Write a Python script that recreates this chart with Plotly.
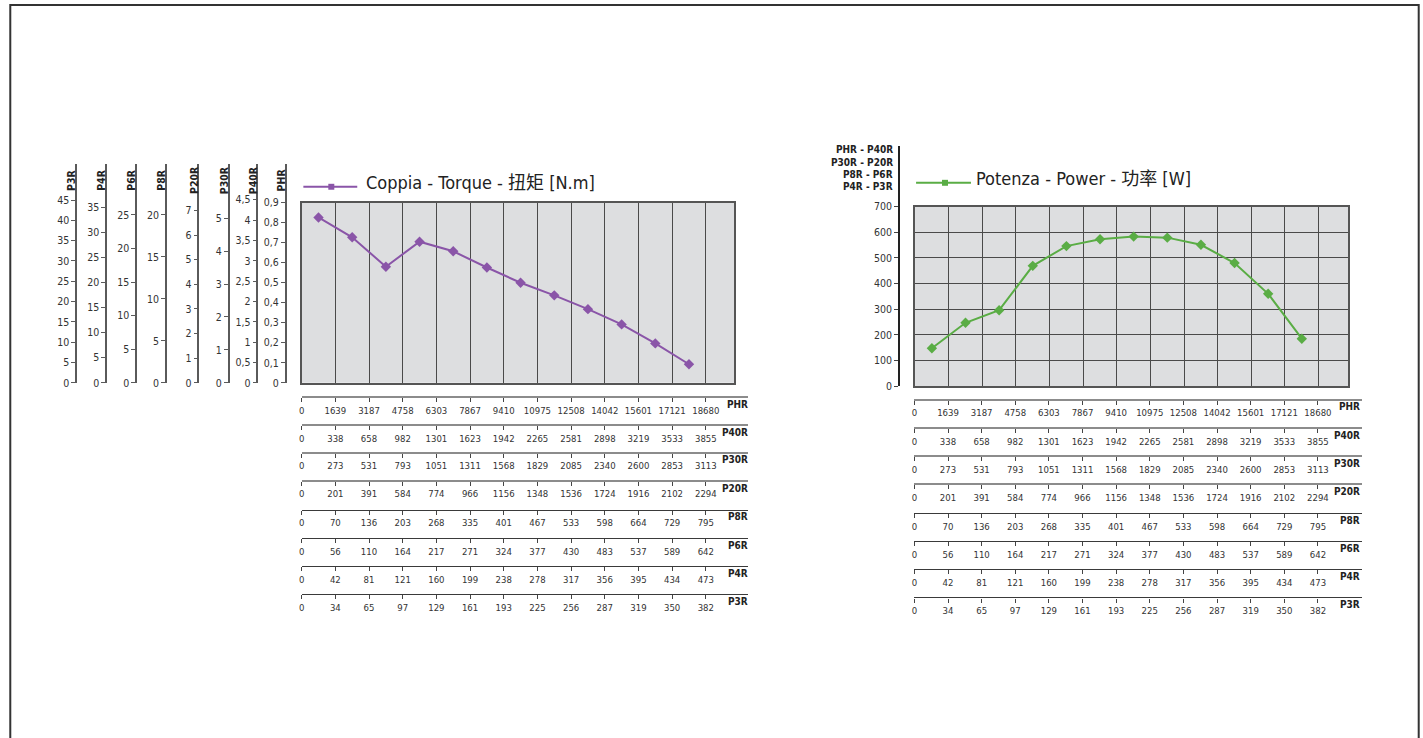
import plotly.graph_objects as go

W, H = 1423, 738

# ---------------- data ----------------
row_names = ["PHR", "P40R", "P30R", "P20R", "P8R", "P6R", "P4R", "P3R"]
speed_PHR = [0, 1639, 3187, 4758, 6303, 7867, 9410, 10975, 12508, 14042, 15601, 17121, 18680]
speed_P40R = [0, 338, 658, 982, 1301, 1623, 1942, 2265, 2581, 2898, 3219, 3533, 3855]
speed_P30R = [0, 273, 531, 793, 1051, 1311, 1568, 1829, 2085, 2340, 2600, 2853, 3113]
speed_P20R = [0, 201, 391, 584, 774, 966, 1156, 1348, 1536, 1724, 1916, 2102, 2294]
speed_P8R = [0, 70, 136, 203, 268, 335, 401, 467, 533, 598, 664, 729, 795]
speed_P6R = [0, 56, 110, 164, 217, 271, 324, 377, 430, 483, 537, 589, 642]
speed_P4R = [0, 42, 81, 121, 160, 199, 238, 278, 317, 356, 395, 434, 473]
speed_P3R = [0, 34, 65, 97, 129, 161, 193, 225, 256, 287, 319, 350, 382]
speed_rows = [speed_PHR, speed_P40R, speed_P30R, speed_P20R,
              speed_P8R, speed_P6R, speed_P4R, speed_P3R]

torque_PHR = [0.826, 0.727, 0.580, 0.705, 0.657, 0.576, 0.500, 0.437, 0.368, 0.292, 0.197, 0.093]
power_W = [148, 247, 296, 469, 546, 573, 583, 579, 551, 480, 360, 185]

scale_names = ["P3R", "P4R", "P6R", "P8R", "P20R", "P30R", "P40R", "PHR"]
scale_ticks = [
    [0, 5, 10, 15, 20, 25, 30, 35, 40, 45],
    [0, 5, 10, 15, 20, 25, 30, 35],
    [0, 5, 10, 15, 20, 25],
    [0, 5, 10, 15, 20],
    [0, 1, 2, 3, 4, 5, 6, 7],
    [0, 1, 2, 3, 4, 5],
    [0, 0.5, 1, 1.5, 2, 2.5, 3, 3.5, 4, 4.5],
    [0, 0.1, 0.2, 0.3, 0.4, 0.5, 0.6, 0.7, 0.8, 0.9],
]
# torque value of each scale at the top edge of the torque plot
scale_top = [44.36, 35.93, 26.83, 21.46, 7.32, 5.47, 4.43, 0.9]

power_ticks = [0, 100, 200, 300, 400, 500, 600, 700]
power_title = ["PHR - P40R", "P30R - P20R", "P8R - P6R", "P4R - P3R"]

torque_label = "Coppia - Torque - 扭矩 [N.m]"
power_label = "Potenza - Power - 功率 [W]"

# ---------------- style / layout helpers ----------------
FONT = "DejaVu Sans Condensed, Liberation Sans Narrow, Noto Sans CJK SC, sans-serif"
PURPLE = "#8a55a8"
GREEN = "#5aad45"
PLOT_BG = "#dddee0"
GRID = "#4a4a4a"


def px(x):
    return x / W


def py(y):
    return 1 - y / H


def fmt(v):
    s = ("%g" % v)
    return s.replace(".", ",")


n_steps = len(speed_PHR) - 1
point_pos = [i + 0.5 for i in range(len(torque_PHR))]

fig = go.Figure()
layout = dict(
    width=W, height=H, autosize=False,
    margin=dict(l=0, r=0, t=0, b=0),
    paper_bgcolor="white", plot_bgcolor="rgba(0,0,0,0)",
    showlegend=False, dragmode=False,
    font=dict(family=FONT, size=10, color="#333"),
    shapes=[], annotations=[],
)

# ---------------- left torque plot ----------------
L_x0, L_x1, L_y0, L_y1 = 299.3, 733.0, 386.0, 204.3
L_step = 33.75
layout["xaxis"] = dict(domain=[px(L_x0), px(L_x1)], range=[0, (L_x1 - L_x0) / L_step],
                       anchor="y", showticklabels=False, ticks="", showgrid=True,
                       gridcolor=GRID, gridwidth=1, tickvals=list(range(1, n_steps + 1)),
                       zeroline=False, showline=True, mirror=True, linecolor="#555",
                       linewidth=1.5, fixedrange=True)
layout["yaxis"] = dict(domain=[py(L_y0), py(L_y1)], range=[0, 0.9], anchor="x",
                       showticklabels=False, ticks="", showgrid=False, zeroline=False,
                       showline=True, mirror=True, linecolor="#555", linewidth=1.5,
                       fixedrange=True)
layout["shapes"].append(dict(type="rect", xref="x domain", yref="y domain", x0=0, x1=1,
                             y0=0, y1=1, fillcolor=PLOT_BG, line=dict(width=0), layer="below"))
fig.add_trace(go.Scatter(x=point_pos, y=torque_PHR, xaxis="x", yaxis="y", mode="lines+markers",
                         line=dict(color=PURPLE, width=2),
                         marker=dict(symbol="diamond", size=8, color=PURPLE),
                         name=torque_label, hoverinfo="y"))

# ---------------- right power plot ----------------
R_x0, R_x1, R_y0, R_y1 = 914.0, 1348.0, 389.3, 208.3
R_step = 33.7
layout["xaxis2"] = dict(domain=[px(R_x0), px(R_x1)], range=[0, (R_x1 - R_x0) / R_step],
                        anchor="y2", showticklabels=False, ticks="", showgrid=True,
                        gridcolor=GRID, gridwidth=1, tickvals=list(range(1, n_steps + 1)),
                        zeroline=False, showline=True, mirror=True, linecolor="#555",
                        linewidth=1.5, fixedrange=True)
layout["yaxis2"] = dict(domain=[py(R_y0), py(R_y1)], range=[0, 700], anchor="x2",
                        showticklabels=False, ticks="", showgrid=True, gridcolor=GRID,
                        gridwidth=1, tickvals=power_ticks[1:-1], zeroline=False,
                        showline=True, mirror=True, linecolor="#555", linewidth=1.5,
                        fixedrange=True)
layout["shapes"].append(dict(type="rect", xref="x2 domain", yref="y2 domain", x0=0, x1=1,
                             y0=0, y1=1, fillcolor=PLOT_BG, line=dict(width=0), layer="below"))
fig.add_trace(go.Scatter(x=point_pos, y=power_W, xaxis="x2", yaxis="y2", mode="lines+markers",
                         line=dict(color=GREEN, width=2),
                         marker=dict(symbol="diamond", size=8, color=GREEN),
                         name=power_label, hoverinfo="y"))

# ---------------- helper dummy axes ----------------
layout["xaxis30"] = dict(visible=False, domain=[0, 0.001], range=[0, 1], fixedrange=True)
layout["yaxis30"] = dict(visible=False, domain=[0, 0.001], range=[0, 1], fixedrange=True)

axis_id = 3

# left scale axes (torque in each reduction)
scale_line_x = [73.3, 103.3, 133.3, 163.3, 195.7, 226.0, 255.0, 283.3]
scale_line_top = 165.0
for name, ticks, top, lx in zip(scale_names, scale_ticks, scale_top, scale_line_x):
    rng_top = top * (L_y0 - scale_line_top) / (L_y0 - L_y1)
    key = "yaxis%d" % axis_id
    layout[key] = dict(domain=[py(L_y0), py(scale_line_top)], range=[0, rng_top],
                       anchor="free", position=px(lx), side="left", showline=True,
                       linecolor="#5a5a5a", linewidth=1.5, ticks="outside", ticklen=4,
                       tickcolor="#5a5a5a", tickvals=ticks, ticktext=[fmt(t) for t in ticks],
                       tickfont=dict(size=10.5, color="#333"), showgrid=False,
                       zeroline=False, fixedrange=True)
    fig.add_trace(go.Scatter(x=[0], y=[0], xaxis="x30", yaxis="y%d" % axis_id, mode="markers",
                             marker=dict(opacity=0), hoverinfo="skip", showlegend=False))
    layout["annotations"].append(dict(x=px(lx - 4.5), y=py(181.7), xref="paper", yref="paper",
                                      text="<b>%s</b>" % name, textangle=-90, showarrow=False,
                                      xanchor="center", yanchor="middle",
                                      font=dict(size=10.5, color="#222")))
    axis_id += 1

# right power scale axis
P_lx, P_top = 897.7, 147.0
key = "yaxis%d" % axis_id
layout[key] = dict(domain=[py(R_y0), py(P_top)], range=[0, 700 * (R_y0 - P_top) / (R_y0 - R_y1)],
                   anchor="free", position=px(P_lx), side="left", showline=True,
                   linecolor="#222", linewidth=1.5, ticks="outside", ticklen=4,
                   tickcolor="#444", tickvals=power_ticks, ticktext=[str(t) for t in power_ticks],
                   tickfont=dict(size=10.5, color="#333"), showgrid=False, zeroline=False,
                   fixedrange=True)
fig.add_trace(go.Scatter(x=[0], y=[0], xaxis="x30", yaxis="y%d" % axis_id, mode="markers",
                         marker=dict(opacity=0), hoverinfo="skip", showlegend=False))
axis_id += 1
for i, line in enumerate(power_title):
    layout["annotations"].append(dict(x=px(894), y=py(151 + i * 12.4), xref="paper", yref="paper",
                                      text="<b>%s</b>" % line, showarrow=False,
                                      xanchor="right", yanchor="middle",
                                      font=dict(size=10, color="#222")))

# speed rows below each plot
row_line_color = ["#8c8c8c"] * 4 + ["#3a3a3a"] * 4
row_line_width = [2, 2, 2, 2, 1.2, 1.2, 1.2, 1.2]
left_rows_y = [400.7, 428.7, 456.7, 485.0, 514.0, 542.7, 570.7, 599.0]
right_rows_y = [403.3, 431.7, 460.0, 488.3, 517.3, 545.7, 574.0, 602.3]
for (x0, x1, step, rows_y, title_x) in [(L_x0, 747.0, L_step, left_rows_y, 748.5),
                                        (R_x0 - 0.7, 1361.7, R_step, right_rows_y, 1362.0)]:
    for r, (name, vals, ry) in enumerate(zip(row_names, speed_rows, rows_y)):
        key = "xaxis%d" % axis_id
        layout[key] = dict(domain=[px(x0), px(x1)], range=[0, (x1 - x0) / step],
                           anchor="free", position=py(ry), side="bottom", showline=True,
                           linecolor=row_line_color[r], linewidth=row_line_width[r],
                           ticks="outside", ticklen=4, tickcolor="#444", tickwidth=1,
                           tickvals=list(range(len(vals))), ticktext=[str(v) for v in vals],
                           tickfont=dict(size=9.5, color="#333"), tickangle=0,
                           showgrid=False, zeroline=False, fixedrange=True)
        fig.add_trace(go.Scatter(x=[0], y=[0], xaxis="x%d" % axis_id, yaxis="y30",
                                 mode="markers", marker=dict(opacity=0), hoverinfo="skip",
                                 showlegend=False))
        layout["annotations"].append(dict(x=px(title_x), y=py(ry + 7), xref="paper", yref="paper",
                                          text="<b>%s</b>" % name, showarrow=False,
                                          xanchor="right", yanchor="middle",
                                          font=dict(size=10, color="#222")))
        axis_id += 1

# ---------------- legends (drawn) ----------------
for (lx0, lx1, ly, mx, tx, ty, color, label) in [
        (301, 355, 188.3, 329, 362, 184, PURPLE, torque_label),
        (915, 970, 184.3, 944, 973, 180, GREEN, power_label)]:
    layout["shapes"].append(dict(type="line", xref="paper", yref="paper", x0=px(lx0), x1=px(lx1),
                                 y0=py(ly), y1=py(ly), line=dict(color=color, width=2)))
    layout["shapes"].append(dict(type="rect", xref="paper", yref="paper", x0=px(mx - 3),
                                 x1=px(mx + 3), y0=py(ly - 3), y1=py(ly + 3), fillcolor=color,
                                 line=dict(width=0)))
    layout["annotations"].append(dict(x=px(tx), y=py(ty), xref="paper", yref="paper", text=label,
                                      showarrow=False, xanchor="left", yanchor="middle",
                                      font=dict(size=18, color="#222")))

# page frame
layout["shapes"].append(dict(type="rect", xref="paper", yref="paper", x0=px(7.3), x1=px(1418.7),
                             y0=-0.05, y1=py(5), line=dict(color="#333", width=2),
                             fillcolor="rgba(0,0,0,0)"))

fig.update_layout(**layout)
fig.write_html("out.html", config=dict(displayModeBar=False),
               post_script="document.body.style.margin='0px';document.body.style.overflow='hidden';")
